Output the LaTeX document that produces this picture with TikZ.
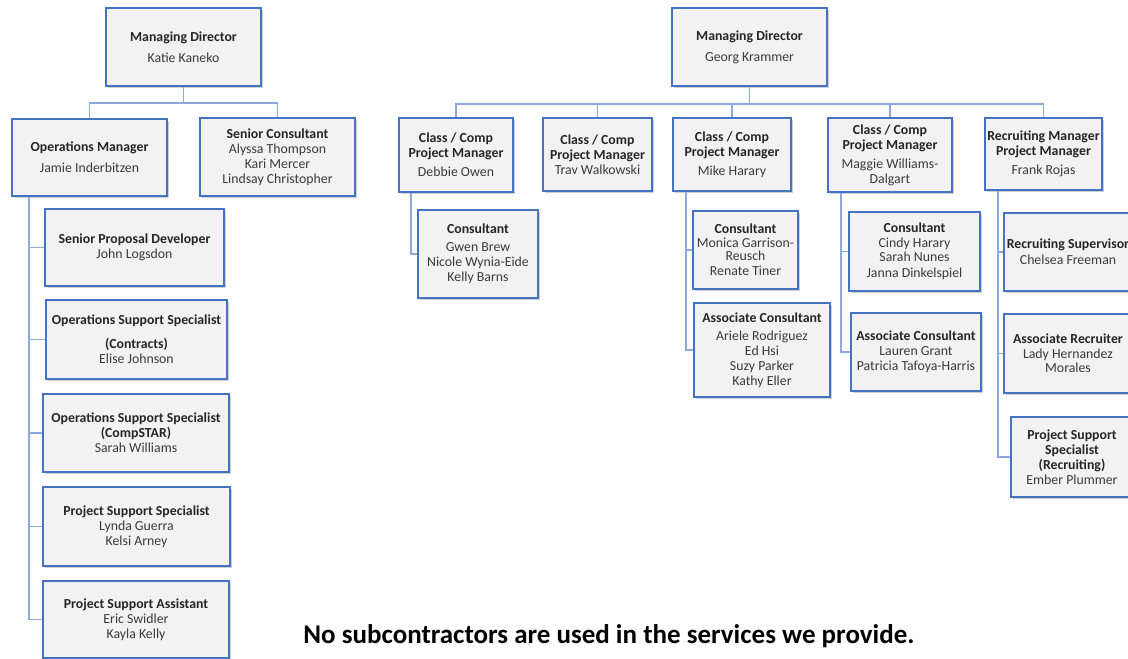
\documentclass[tikz,border=0pt]{standalone}
\usepackage{fontspec}
\setmainfont{Carlito}
\usetikzlibrary{shadows}
\definecolor{boxblue}{HTML}{4472C4}
\definecolor{connblue}{HTML}{8EA9DB}
\definecolor{boxfill}{HTML}{F2F2F2}
\definecolor{titlecol}{HTML}{262626}
\definecolor{namecol}{HTML}{3B3B3B}
\tikzset{
 obox/.style={draw=boxblue, line width=2.2pt, fill=boxfill, align=center, inner sep=0pt,
   font=\fontsize{13.8}{15}\selectfont, text=namecol,
   drop shadow={shadow xshift=2pt, shadow yshift=-2pt, opacity=0.3, fill=black!60}},
 conn/.style={draw=connblue, line width=1.4pt},
 notestyle/.style={font=\bfseries\fontsize{27}{32}\selectfont, text=black},
}
\newcommand\ttl[1]{\textbf{\color{titlecol}#1}}
\newcommand\obx[6]{\node[obox, minimum width={(#4-#2)*1pt}, minimum height={(#5-#3)*1pt}] (#1) at ({(#2+#4)/2},{(#3+#5)/2}) {#6};}
\begin{document}
\begin{tikzpicture}[x=1pt,y=-1pt]
\fill[white] (0,0) rectangle (1128,659);
\useasboundingbox (0,0) rectangle (1128,659);
\clip (0,0) rectangle (1128,659);
% left tree
\obx{md1}{106}{8}{261}{86}{\ttl{Managing Director}\\[6pt]Katie Kaneko}
\obx{om}{12}{119}{167}{196}{\ttl{Operations Manager}\\[6pt]Jamie Inderbitzen}
\obx{sc}{200}{118}{355}{196}{\ttl{Senior Consultant}\\Alyssa Thompson\\Kari Mercer\\Lindsay Christopher}
\obx{spd}{45}{209}{224}{286}{\ttl{Senior Proposal Developer}\\John Logsdon}
\obx{ossc}{46}{300}{227}{379}{\ttl{Operations Support Specialist}\\[9pt]\ttl{(Contracts)}\\Elise Johnson}
\obx{osss}{43}{394}{229}{472}{\ttl{Operations Support Specialist}\\\ttl{(CompSTAR)}\\Sarah Williams}
\obx{pss}{43}{487}{230}{566}{\ttl{Project Support Specialist}\\Lynda Guerra\\Kelsi Arney}
\obx{psa}{43}{581}{229}{658}{\ttl{Project Support Assistant}\\Eric Swidler\\Kayla Kelly}
% right tree
\obx{md2}{672}{8}{827}{86}{\ttl{Managing Director}\\[6pt]Georg Krammer}
\obx{cc1}{399}{118}{513}{192}{\ttl{Class / Comp}\\\ttl{Project Manager}\\[4pt]Debbie Owen}
\obx{cc2}{543}{118}{652}{191}{\ttl{Class / Comp}\\\ttl{Project Manager}\\Trav Walkowski}
\obx{cc3}{673}{118}{791}{191}{\ttl{Class / Comp}\\\ttl{Project Manager}\\[4pt]Mike Harary}
\obx{cc4}{828}{118}{952}{192}{\ttl{Class / Comp}\\\ttl{Project Manager}\\[4pt]Maggie Williams-\\Dalgart}
\obx{rm}{985}{118}{1102}{190}{\ttl{Recruiting Manager}\\\ttl{Project Manager}\\[4pt]Frank Rojas}
\obx{con1}{418}{210}{538}{298}{\ttl{Consultant}\\[3pt]Gwen Brew\\Nicole Wynia-Eide\\Kelly Barns}
\obx{con3}{693}{211}{798}{289}{\ttl{Consultant}\\[-1pt]Monica Garrison-\\[-2pt]Reusch\\Renate Tiner}
\obx{ac3}{694}{303}{830}{397}{\ttl{Associate Consultant}\\[3pt]Ariele Rodriguez\\Ed Hsi\\Suzy Parker\\Kathy Eller}
\obx{con4}{849}{212}{980}{291}{\ttl{Consultant}\\Cindy Harary\\[-1pt]Sarah Nunes\\[1pt]Janna Dinkelspiel}
\obx{ac4}{851}{313}{981}{391}{\ttl{Associate Consultant}\\Lauren Grant\\Patricia Tafoya-Harris}
\obx{rs}{1004}{213}{1132}{291}{\ttl{Recruiting Supervisor}\\[1pt]Chelsea Freeman}
\obx{ar}{1004}{314}{1132}{393}{\ttl{Associate Recruiter}\\Lady Hernandez\\[-1pt]Morales}
\obx{pssr}{1011}{417}{1133}{497}{\ttl{Project Support}\\\ttl{Specialist}\\\ttl{(Recruiting)}\\Ember Plummer}
% connectors left
\draw[conn] (md1.south) -- ++(0,16) -| (om.north);
\draw[conn] (md1.south) -- ++(0,16) -| (sc.north);
\foreach \c in {spd,ossc,osss,pss,psa}
  \draw[conn] ([xshift=18pt]om.south west) |- (\c.west);
% connectors right
\foreach \c in {cc1,cc2,cc3,cc4,rm}
  \draw[conn] (md2.south) -- ++(0,17) -| (\c.north);
\draw[conn] ([xshift=13pt]cc1.south west) |- (con1.west);
\foreach \c in {con3,ac3}
  \draw[conn] ([xshift=14pt]cc3.south west) |- (\c.west);
\foreach \c in {con4,ac4}
  \draw[conn] ([xshift=14pt]cc4.south west) |- (\c.west);
\foreach \c in {rs,ar,pssr}
  \draw[conn] ([xshift=14pt]rm.south west) |- (\c.west);
% note
\node[notestyle] (note) at (609,636) {No subcontractors are used in the services we provide.};
\end{tikzpicture}
\end{document}
